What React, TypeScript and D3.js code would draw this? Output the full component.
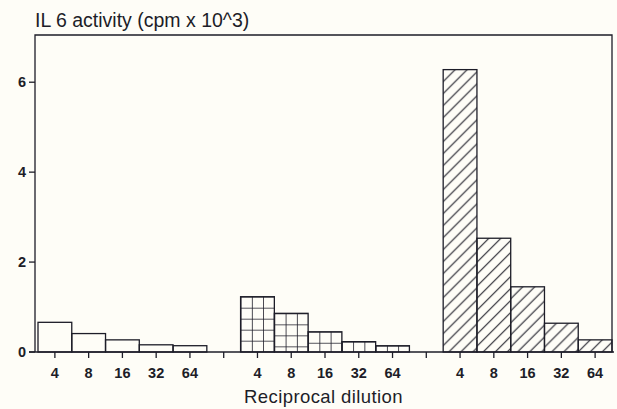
import React from "react";
import { scaleBand, scaleLinear } from "d3";

// reciprocal dilutions shown under each group of bars
const dilutions = ["4", "8", "16", "32", "64"];
// IL 6 activity (cpm x 10^3)
const plainValues = [0.66, 0.41, 0.27, 0.16, 0.14];
const gridValues = [1.23, 0.86, 0.45, 0.23, 0.14];
const hatchValues = [6.28, 2.53, 1.45, 0.64, 0.27];
const yTicks = [0, 2, 4, 6];

const groups = [
    { fill: "plain", values: plainValues },
    { fill: "grid", values: gridValues },
    { fill: "hatch", values: hatchValues },
];

const W = 617;
const H = 409;
const ink = "#1d1d28";
const font = "'Liberation Sans', Arial, Helvetica, sans-serif";

export default function App() {
    const frameLeft = 35;
    const frameTop = 35;
    const base = 352;

    // 17 slots: 5 bars, an empty slot, 5 bars, an empty slot, 5 bars
    const slots = [];
    groups.forEach((g, gi) => {
        g.values.forEach((v, i) => slots.push({ key: `${gi}-${i}`, gi, i, v, fill: g.fill }));
        if (gi < groups.length - 1) slots.push({ key: `gap-${gi}`, gi, i: -1, v: null, fill: null });
    });

    const x = scaleBand().domain(slots.map(s => s.key)).range([38, 612]).padding(0);
    const y = scaleLinear().domain([0, 7.05]).range([base, frameTop]);
    const frameRight = x.range()[1];
    const bw = x.bandwidth();

    const bars = slots.filter(s => s.v !== null);

    return (
        <svg width={W} height={H} style={{ position: "absolute", left: 0, top: 0, background: "#fefdf7" }}
            fontFamily={font}>
            <defs>
                {bars.map(b => {
                    const bx = x(b.key);
                    const by = y(b.v);
                    if (b.fill === "grid") {
                        const cw = bw / 3;
                        return (
                            <pattern key={b.key} id={`p-${b.key}`} patternUnits="userSpaceOnUse"
                                x={bx} y={by} width={cw} height={11}>
                                <path d={`M0,0 H${cw} M0,0 V11`} stroke={ink} strokeWidth={1.6} fill="none" />
                            </pattern>
                        );
                    }
                    if (b.fill === "hatch") {
                        const s = 12;
                        return (
                            <pattern key={b.key} id={`p-${b.key}`} patternUnits="userSpaceOnUse"
                                x={bx} y={by} width={s} height={s}>
                                <path d={`M-1,1 l2,-2 M0,${s} l${s},${-s} M${s - 1},${s + 1} l2,-2`}
                                    stroke={ink} strokeWidth={1.1} fill="none" />
                            </pattern>
                        );
                    }
                    return null;
                })}
            </defs>

            <text x={frameLeft} y={26.5} fontSize={19.5} fill={ink}>IL 6 activity (cpm x 10^3)</text>

            {/* frame */}
            <path d={`M${frameLeft},${base} V${frameTop} H${frameRight} V${base}`} fill="none" stroke={ink} strokeWidth={1.3} />

            {bars.map(b => (
                <rect key={b.key} x={x(b.key)} y={y(b.v)} width={bw} height={base - y(b.v)}
                    fill={b.fill === "plain" ? "none" : `url(#p-${b.key})`}
                    stroke={ink} strokeWidth={1.3} />
            ))}

            {/* x axis */}
            <line x1={29} x2={614} y1={base} y2={base} stroke={ink} strokeWidth={1.3} />
            {slots.map(s => {
                const cx = x(s.key) + bw / 2;
                return (
                    <g key={`t-${s.key}`}>
                        <line x1={cx} x2={cx} y1={base} y2={base + 6} stroke={ink} strokeWidth={1.3} />
                        {s.v !== null && (
                            <text x={cx} y={378} textAnchor="middle" fontSize={14.5} fontWeight="bold" fill={ink}>
                                {dilutions[s.i]}
                            </text>
                        )}
                    </g>
                );
            })}
            <text x={(frameLeft + frameRight) / 2} y={403} textAnchor="middle" fontSize={18.5} letterSpacing={0.4} fill={ink}>
                Reciprocal dilution
            </text>

            {/* y axis */}
            {yTicks.map(t => (
                <g key={`y-${t}`}>
                    <line x1={frameLeft - 6} x2={frameLeft} y1={y(t)} y2={y(t)} stroke={ink} strokeWidth={1.3} />
                    <text x={frameLeft - 9} y={y(t) + 5} textAnchor="end" fontSize={14.5} fontWeight="bold" fill={ink}>{t}</text>
                </g>
            ))}
        </svg>
    );
}
